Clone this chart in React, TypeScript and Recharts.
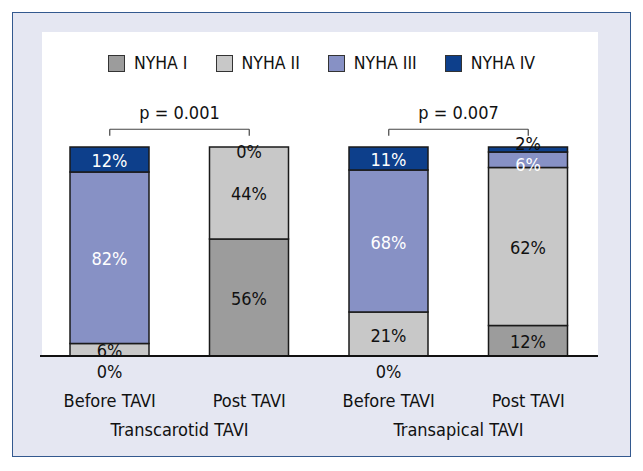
import React from 'react';
import { BarChart, Bar, XAxis, YAxis, Legend, LabelList, ReferenceLine } from 'recharts';

const FONT = '"Liberation Sans Narrow", "DejaVu Sans Condensed", "Arial Narrow", sans-serif';

const categories = ['tc-before', 'tc-post', 'ta-before', 'ta-post'];
const tickLabels = ['Before TAVI', 'Post TAVI', 'Before TAVI', 'Post TAVI'];
const groupLabels = ['Transcarotid TAVI', 'Transapical TAVI'];
const pValues = ['p = 0.001', 'p = 0.007'];

const seriesKeys = ['nyha1', 'nyha2', 'nyha3', 'nyha4'];
const seriesNames = ['NYHA I', 'NYHA II', 'NYHA III', 'NYHA IV'];
const seriesColors = ['#9c9c9c', '#c8c8c8', '#8791c5', '#0d3f8b'];

const nyha1 = [0, 56, 0, 12];
const nyha2 = [6, 44, 21, 62];
const nyha3 = [82, 0, 68, 6];
const nyha4 = [12, 0, 11, 2];
const seriesValues = [nyha1, nyha2, nyha3, nyha4];

const data = categories.map((cat, i) => {
  const row: Record<string, string | number> = { cat };
  seriesKeys.forEach((k, s) => {
    row[k] = seriesValues[s][i];
  });
  return row;
});

// y positions of the p-value brackets, in the expanded (0..1) scale
const BRACKET_TOP = 1.085;
const BRACKET_FOOT = 1.054;
const FS = 18;

function CategoryTick(props: any) {
  const { x, y, payload } = props;
  const i = categories.indexOf(payload?.value);
  const half = payload?.offset ?? 69.75;
  return (
    <g>
      <text x={x} y={y + 51} textAnchor="middle" fontSize={FS} fontFamily={FONT} fill="#111">
        {tickLabels[i]}
      </text>
      {i % 2 === 0 && (
        <text x={x + half} y={y + 80} textAnchor="middle" fontSize={FS} fontFamily={FONT} fill="#111">
          {groupLabels[i / 2]}
        </text>
      )}
    </g>
  );
}

const txt = (key: string, x: number, y: number, fill: string, v: number) => (
  <text key={key} x={x} y={y} textAnchor="middle" dominantBaseline="central" fontSize={FS} fontFamily={FONT} fill={fill}>
    {`${v}%`}
  </text>
);

const makeLabel = (s: number) => (props: any) => {
  const vb = props.viewBox ?? props;
  const x = vb.x ?? props.x;
  const y = vb.y ?? props.y;
  const w = vb.width ?? props.width;
  const h = vb.height ?? props.height;
  const idx = props.index;
  const v = typeof props.value === 'number' ? props.value : seriesValues[s][idx];
  if (v === 0) return null;
  const cx = x + w / 2;
  const out: any[] = [];
  if (s === 0 || s === 1) {
    out.push(txt('main', cx, y + h / 2 + 1, '#111', v));
  } else if (s === 2) {
    out.push(txt('main', cx, y + h / 2 + (h < 20 ? 5 : 1), '#fff', v));
  } else if (v < 5) {
    out.push(txt('main', cx, y - 4, '#111', v));
  } else {
    out.push(txt('main', cx, y + h / 2 + 1, '#fff', v));
  }
  // zero-valued segments have no rectangle: their labels hang on the NYHA II segment
  if (s === 1 && typeof idx === 'number') {
    if (nyha1[idx] === 0) out.push(txt('zero-bottom', cx, y + h + 15, '#111', 0));
    if (nyha3[idx] === 0 && nyha4[idx] === 0) out.push(txt('zero-top', cx, y + 4, '#111', 0));
  }
  return <g>{out}</g>;
};

function LegendRow(props: any) {
  const items = props.payload && props.payload.length
    ? props.payload.map((p: any) => ({ name: p.value, color: p.color }))
    : seriesNames.map((n, i) => ({ name: n, color: seriesColors[i] }));
  return (
    <div style={{ display: 'flex', justifyContent: 'center', alignItems: 'center', height: 22 }}>
      {items.map((it: any, i: number) => (
        <div key={it.name} style={{ display: 'flex', alignItems: 'center', marginLeft: i === 0 ? 0 : 28 }}>
          <span
            style={{
              display: 'inline-block',
              width: 15,
              height: 15,
              background: it.color,
              border: '1px solid #333',
              marginRight: 9,
            }}
          />
          <span style={{ fontFamily: FONT, fontSize: 17.5, color: '#111', lineHeight: '22px' }}>{it.name}</span>
        </div>
      ))}
    </div>
  );
}

export default function App() {
  return (
    <div style={{ position: 'absolute', left: 0, top: 0, width: 643, height: 471, background: '#fff' }}>
      <div
        style={{
          position: 'absolute',
          left: 12,
          top: 12,
          width: 617,
          height: 443,
          background: '#e5e7f2',
          border: '1.5px solid #33598f',
        }}
      />
      <div style={{ position: 'absolute', left: 42, top: 32, width: 556, height: 324, background: '#fff' }} />
      <div style={{ position: 'absolute', left: 0, top: 0 }}>
        <BarChart
          width={643}
          height={471}
          data={data}
          stackOffset="expand"
          margin={{ top: 147, right: 45, bottom: 25, left: 40 }}
        >
          <XAxis
            dataKey="cat"
            height={90}
            interval={0}
            tickLine={false}
            tickSize={0}
            tickMargin={0}
            axisLine={{ stroke: '#111', strokeWidth: 2 }}
            tick={<CategoryTick />}
          />
          <YAxis hide domain={[0, 1]} />
          <Legend
            layout="horizontal"
            verticalAlign="middle"
            align="center"
            wrapperStyle={{ top: 52, left: 0, width: 643 }}
            content={<LegendRow />}
          />
          {seriesKeys.map((k, s) => (
            <Bar
              key={k}
              dataKey={k}
              name={seriesNames[s]}
              stackId="a"
              fill={seriesColors[s]}
              stroke="#1a1a1a"
              strokeWidth={1.5}
              barSize={79}
              isAnimationActive={false}
            >
              <LabelList dataKey={k} content={makeLabel(s)} />
            </Bar>
          ))}
          {[0, 1].flatMap((g) => {
            const a = categories[g * 2];
            const b = categories[g * 2 + 1];
            const line = { stroke: '#444', strokeWidth: 1.2, ifOverflow: 'visible' as const };
            return [
              <ReferenceLine
                key={`h${g}`}
                segment={[{ x: a, y: BRACKET_TOP }, { x: b, y: BRACKET_TOP }]}
                {...line}
                label={{ value: pValues[g], position: 'top', offset: 10, fill: '#111', fontSize: FS, fontFamily: FONT }}
              />,
              <ReferenceLine key={`l${g}`} segment={[{ x: a, y: BRACKET_TOP }, { x: a, y: BRACKET_FOOT }]} {...line} />,
              <ReferenceLine key={`r${g}`} segment={[{ x: b, y: BRACKET_TOP }, { x: b, y: BRACKET_FOOT }]} {...line} />,
            ];
          })}
        </BarChart>
      </div>
    </div>
  );
}
